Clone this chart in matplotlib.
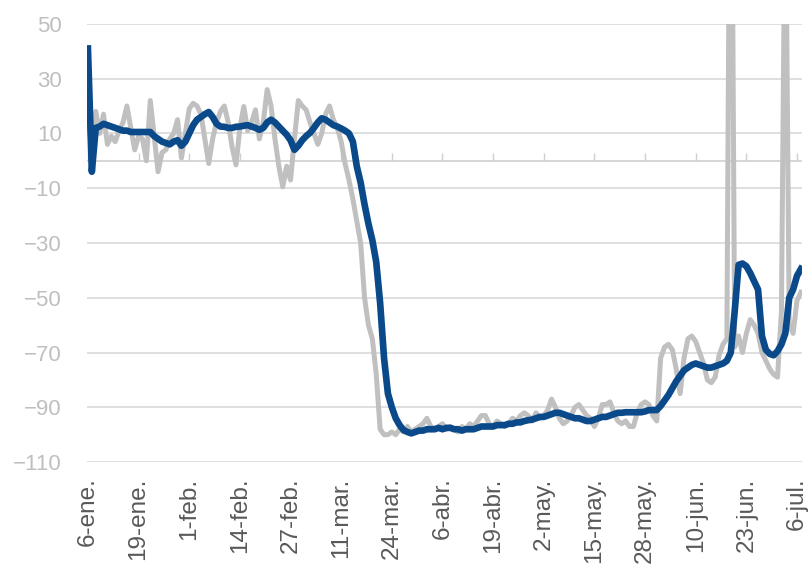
import matplotlib
matplotlib.use("Agg")
import matplotlib.pyplot as plt
import numpy as np

# Daily series starting 6-ene (2020), one value per day up to 7-jul
gray_daily = [
    15, 5, 18, 10, 17, 6, 9, 7, 11, 14,
    20, 12, 4, 9, 8, 0, 22, 9, -4, 3,
    4, 8, 10, 15, 1, 10, 19, 21, 20, 17,
    8, -1, 8, 14, 18, 20, 14, 5, -1.5, 12,
    19.8, 11, 14, 18.6, 8, 14, 26, 20, 8, -2,
    -9.5, -2, -7, 8, 22, 20, 18.6, 14, 10, 6,
    10, 17, 20, 15, 12, 7, -1, -7, -14, -22,
    -30, -50, -60, -65, -78, -98, -100, -100, -99, -100,
    -98, -99, -97, -99, -98, -97, -96, -94, -97, -98,
    -97, -96, -98, -97, -98, -99, -97, -98, -96, -97,
    -95, -93, -93, -96, -97, -95, -96, -97, -96, -94,
    -95, -93, -92, -93, -95, -92, -94, -93, -91, -87,
    -90, -94, -96, -95, -93, -90, -89, -91, -93, -94,
    -97, -94, -89, -89, -88, -92, -95, -96, -95, -97,
    -97, -92, -89, -88, -89, -93, -95, -72, -68, -67,
    -69, -76, -85, -72, -65, -64, -66, -70, -74, -80,
    -81, -79, -71, -67, -65, 180, -68, -64, -70, -63,
    -58, -60, -63, -70, -73, -76, -78, -79, -55, 110,
    -60, -63, -51, -48,
]

blue_avg = [
    41, -4, 12, 12.5, 13.5, 13, 12.5, 12, 11.5, 11,
    11, 10.5, 10.5, 10.5, 10.5, 10.5, 10.5, 9, 8, 7,
    6.5, 6, 7, 7.5, 5.5, 7, 10, 13, 15, 16,
    17, 17.8, 16, 13.5, 12.5, 12.4, 12, 12, 12.4, 12.5,
    12.8, 13, 12.5, 12, 11.3, 12, 14, 15, 14, 12.5,
    11, 9.5, 7.5, 4, 5.5, 7.5, 9, 10.2, 12, 14,
    15.5, 15, 14, 13, 12.5, 11.8, 11, 10, 7, -2,
    -8, -16, -23, -29, -37, -52, -72, -85, -90, -94,
    -96.5, -98.3, -99, -99.5, -99, -98.5, -98.5, -98, -98, -98,
    -97.5, -98, -97.5, -97.5, -98, -98, -98.5, -98, -98, -98,
    -97.5, -97, -97, -97, -97, -96.5, -96.5, -96.5, -96, -96,
    -95.5, -95.5, -95, -94.7, -94.5, -94, -93.5, -93.5, -93, -92.5,
    -92, -92, -92.5, -93, -93.5, -94, -94, -94.5, -95, -95,
    -94.5, -94, -93.5, -93.5, -93, -92.5, -92, -92, -91.8, -91.8,
    -91.8, -91.8, -91.8, -91.5, -91, -91, -91, -89.5, -87.5, -85.5,
    -83, -80.5, -78.5, -76.5, -75.5, -74.5, -74, -74.5, -75, -75.5,
    -75.5, -75, -74.5, -74, -73, -70, -55, -38, -37.5, -38.5,
    -41, -44, -47, -64, -69, -70.5, -71, -69.5, -67, -63,
    -50, -47, -42, -39.5,
]

tick_labels = ["6-ene.", "19-ene.", "1-feb.", "14-feb.", "27-feb.", "11-mar.",
               "24-mar.", "6-abr.", "19-abr.", "2-may.", "15-may.", "28-may.",
               "10-jun.", "23-jun.", "6-jul."]
tick_step = 13
y_ticks = [50, 30, 10, -10, -30, -50, -70, -90, -110]

assert len(gray_daily) == len(blue_avg)

plt.rcParams['font.family'] = ['Liberation Sans', 'DejaVu Sans']

fig = plt.figure(figsize=(8.11, 5.67), dpi=100)
ax = fig.add_axes([0.107, 0.185, 0.882, 0.773])

days = np.arange(len(gray_daily))
tick_pos = np.arange(len(tick_labels)) * tick_step

grid_col = '#D9D9D9'
ax.set_ylim(-110, 50)
ax.set_xlim(-0.3, 183.3)
ax.set_yticks(y_ticks)
ax.yaxis.grid(True, color=grid_col, linewidth=1.2)
ax.set_axisbelow(True)
for s in ax.spines.values():
    s.set_visible(False)

ax.axhline(0, color='#CFCFCF', linewidth=1.2, zorder=1)

ax.plot(days, gray_daily, color='#C0C0C0', linewidth=3.6, solid_joinstyle='round', zorder=2)
ax.plot(days, blue_avg, color='#0B4A8A', linewidth=4.8, solid_joinstyle='round', zorder=3)

ax.set_xticks(tick_pos)
ax.set_xticklabels(tick_labels, rotation=90, fontsize=17.5, color='#595959')
ax.tick_params(axis='x', length=0, pad=11)
ax.tick_params(axis='y', length=0, pad=18, labelsize=16, labelcolor='#BFBFBF')

# tick marks on the zero line
sec = ax.secondary_xaxis((0 - (-110)) / 160.0)
sec.set_xticks(tick_pos)
sec.set_xticklabels([])
sec.tick_params(axis='x', direction='out', length=6, width=1, color='#CFCFCF')
sec.spines['bottom'].set_visible(False)
sec.spines['top'].set_visible(False)

fig.savefig("out.png", dpi=100)
